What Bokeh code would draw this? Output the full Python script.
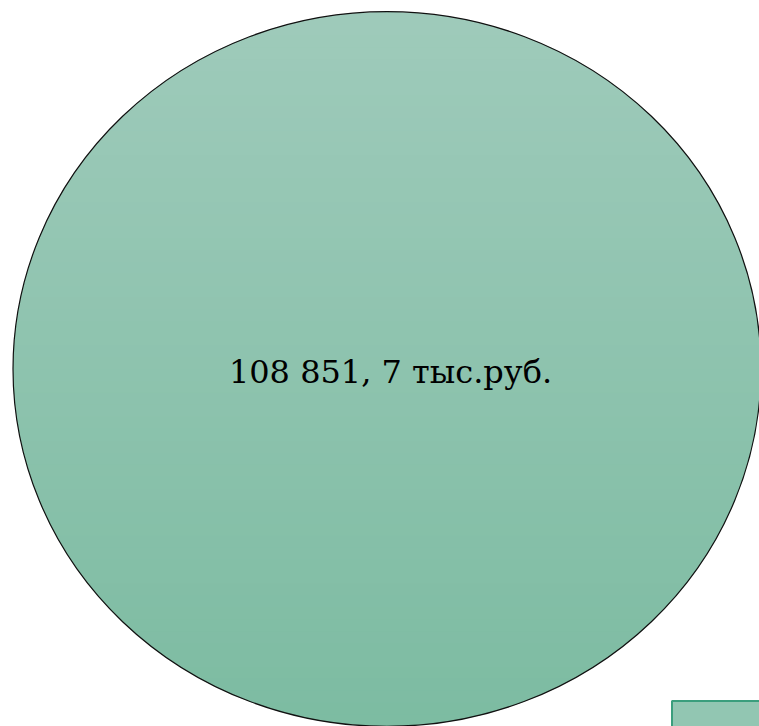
import numpy as np
from bokeh.plotting import figure
from bokeh.models import Range1d
from bokeh.core.properties import value
from bokeh.embed import file_html
from bokeh.resources import INLINE

# Data
labels = ["108 851, 7 тыс.руб."]
values = [108851.7]

W, H = 759, 726
p = figure(width=W, height=H, output_backend="svg", toolbar_location=None,
           x_range=Range1d(0, W), y_range=Range1d(H, 0),
           min_border=0, outline_line_color=None)
p.axis.visible = False
p.grid.visible = False
p.background_fill_color = "white"
p.border_fill_color = "white"

# single-slice "pie" drawn as large ellipse with vertical gradient
cx, cy, rx, ry = 386.5, 368.5, 374.0, 357.5
top = np.array([0x9F, 0xCB, 0xBB])
bot = np.array([0x7D, 0xBC, 0xA2])
n = 60
edges = np.linspace(cy - ry, cy + ry, n + 1)
xs, ys, cols = [], [], []
for i in range(n):
    y0, y1 = edges[i], edges[i + 1] + 0.8
    yy = np.linspace(y0, min(y1, cy + ry), 8)
    half = rx * np.sqrt(np.clip(1 - ((yy - cy) / ry) ** 2, 0, 1))
    px = list(cx - half) + list((cx + half)[::-1])
    py = list(yy) + list(yy[::-1])
    t = (i + 0.5) / n
    c = (top * (1 - t) + bot * t).astype(int)
    xs.append(px); ys.append(py); cols.append("#%02x%02x%02x" % tuple(c))
p.patches(xs, ys, fill_color=cols, line_color=None)
p.ellipse(x=[cx], y=[cy], width=[2 * rx], height=[2 * ry], fill_color=None,
          line_color="#111111", line_width=1.2)

p.text(x=[cx + 3.5], y=[cy + 3], text=labels, text_font=value("DejaVu Serif"),
       text_font_size="32px", text_align="center", text_baseline="middle",
       text_color="black")

# legend key (partially visible)
p.quad(left=[671.5], right=[790], top=[700.5], bottom=[760],
       fill_color="#92C6B2", line_color="#3B9E7D", line_width=2)

open("out.html", "w").write(file_html(p, INLINE))
